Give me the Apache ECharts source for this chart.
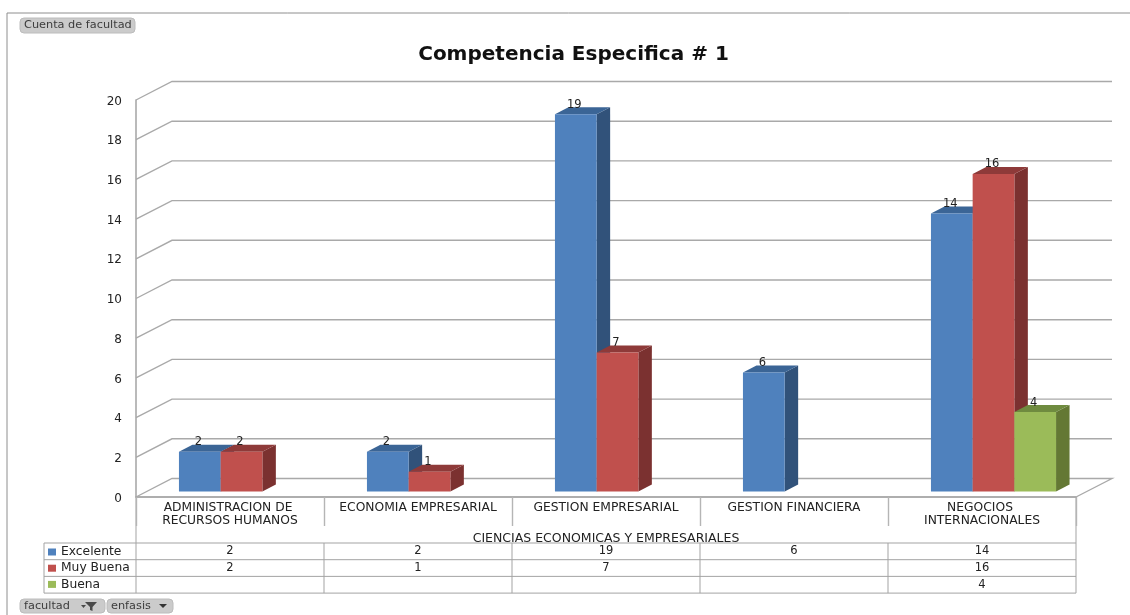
<!DOCTYPE html>
<html>
<head>
<meta charset="utf-8">
<title>Competencia Especifica # 1</title>
<style>html,body{margin:0;padding:0;background:#fff}#c{width:1130px;height:615px}</style>
<script src="https://cdn.jsdelivr.net/npm/echarts@6/dist/echarts.min.js"></script>
</head>
<body>
<div id="c"></div>
<script>
const titulo = 'Competencia Especifica # 1';
const facultad = 'CIENCIAS ECONOMICAS Y EMPRESARIALES';
const categorias = ['ADMINISTRACION DE RECURSOS HUMANOS','ECONOMIA EMPRESARIAL','GESTION EMPRESARIAL','GESTION FINANCIERA','NEGOCIOS INTERNACIONALES'];
const excelente = [2,2,19,6,14];
const muyBuena = [2,1,7,null,16];
const buena = [null,null,null,null,4];
const marcasY = [0,2,4,6,8,10,12,14,16,18,20];
const FONT = '"DejaVu Sans", Verdana, sans-serif';
const GRID = {left:136, top:100, width:940, height:397};
const DX = 36, DY = 18.5;         // wall depth
const BAR_DX = 13.5, BAR_DY = 7;  // bar depth
const INSET_Y = 5.5, INSET_X = 11.5;
const TBL = {left:44, top:543, rowH:16.7, rows:3};
const LINE = '#a9a9a9';

function shade(shape, fill){ return {type:'polygon', shape:{points:shape}, style:{fill:fill, stroke:null}}; }

function barRenderer(idx, front, top, side){
  return function(params, api){
    const i = api.value(0), v = api.value(1);
    const p = api.coord([i, v]), b = api.coord([i, 0]);
    const w = api.size([1,0])[0] * 0.2218;
    const x0 = p[0] + INSET_X - 1.5*w + idx*w, x1 = x0 + w;
    const yT = p[1] - INSET_Y, yB = b[1] - INSET_Y;
    return {type:'group', children:[
      shade([[x1,yT],[x1+BAR_DX,yT-BAR_DY],[x1+BAR_DX,yB-BAR_DY],[x1,yB]], side),
      shade([[x0,yT],[x0+BAR_DX,yT-BAR_DY],[x1+BAR_DX,yT-BAR_DY],[x1,yT]], top),
      {type:'rect', shape:{x:x0,y:yT,width:w,height:yB-yT}, style:{fill:front}},
      {type:'text', style:{x:(x0+x1)/2-1.5, y:yT-9.5, text:String(v), fill:'#222', font:'11.5px '+FONT, align:'center', verticalAlign:'middle'}}
    ]};
  };
}
function barSeries(name, values, idx, front, top, side){
  return {
    name:name, type:'custom', coordinateSystem:'cartesian2d',
    itemStyle:{color:front}, clip:false, z:3+idx,
    renderItem:barRenderer(idx, front, top, side),
    encode:{x:0,y:1},
    data:values.map((v,i)=>[i,v]).filter(d=>d[1]!==null)
  };
}

const wallSeries = {
  name:'pared', type:'custom', coordinateSystem:'cartesian2d', silent:true, z:1, clip:false,
  encode:{y:0},
  data:marcasY.map(v=>[v]),
  renderItem:function(params, api){
    const v = api.value(0);
    const y = api.coord([0, v])[1];
    const cs = params.coordSys;
    const pts = [[cs.x, y],[cs.x+DX, y-DY],[cs.x+cs.width+DX, y-DY]];
    if (v === 0) pts.push([cs.x+cs.width, y]);
    return {type:'polyline', shape:{points:pts}, style:{stroke:LINE, lineWidth:1.4, fill:null}};
  }
};

const filas = [excelente, muyBuena, buena];
const celdas = [];
filas.forEach((f,r)=>f.forEach((v,c)=>{ if(v!==null) celdas.push([c,r,v]); }));
const tablaSeries = {
  name:'tabla', type:'custom', coordinateSystem:'cartesian2d', silent:true, z:6, clip:false,
  encode:{x:0},
  data:celdas,
  renderItem:function(params, api){
    const x = api.coord([api.value(0), 0])[0];
    const y = TBL.top + (api.value(1)+0.5)*TBL.rowH;
    return {type:'text', style:{x:x, y:y, text:String(api.value(2)), fill:'#222', font:'11.5px '+FONT, align:'center', verticalAlign:'middle'}};
  }
};

function hline(x1,x2,y,c){ return {type:'line', shape:{x1:x1,y1:y,x2:x2,y2:y}, style:{stroke:c||'#a3a3a3', lineWidth:1}, silent:true}; }
function vline(x,y1,y2,c){ return {type:'line', shape:{x1:x,y1:y1,x2:x,y2:y2}, style:{stroke:c||'#a3a3a3', lineWidth:1}, silent:true}; }
function boton(x,y,w,h,t,tx){
  return [
    {type:'rect', shape:{x:x,y:y,width:w,height:h,r:4}, style:{fill:'#cbcbcb', stroke:'#bcbcbc', lineWidth:1}, silent:true},
    {type:'text', style:{x:tx,y:y+h/2,text:t,fill:'#3c3c3c',font:'11.3px '+FONT,verticalAlign:'middle'}, silent:true}
  ];
}
const right = GRID.left+GRID.width, bottom = TBL.top+TBL.rows*TBL.rowH;
const colW = GRID.width/categorias.length;
const graficos = [
  hline(7,1130,13,'#8e8e8e'), vline(7,13,615,'#8e8e8e'),
  ...boton(20,18,115,15,'Cuenta de facultad',24),
  ...boton(20,599,85,14,'facultad',24),
  ...boton(107,599,66,14,'enfasis',111),
  {type:'polygon', shape:{points:[[85,602],[97,602],[92.5,607],[92.5,611],[90,610],[90,607]]}, style:{fill:'#4a4a4a'}, silent:true},
  {type:'polygon', shape:{points:[[81,605],[86,605],[83.5,608]]}, style:{fill:'#4a4a4a'}, silent:true},
  {type:'polygon', shape:{points:[[159,604],[167,604],[163,608]]}, style:{fill:'#333'}, silent:true},
  vline(GRID.left,497,bottom), vline(right,497,bottom),
  vline(TBL.left,TBL.top,bottom), hline(GRID.left,right,497),
];
for (let r=0;r<=TBL.rows;r++) graficos.push(hline(TBL.left,right,TBL.top+r*TBL.rowH));
for (let c=1;c<categorias.length;c++) graficos.push(vline(GRID.left+c*colW,TBL.top,bottom));

const chart = echarts.init(document.getElementById('c'), null, {renderer:'canvas'});
chart.setOption({
  animation:false,
  backgroundColor:'#ffffff',
  textStyle:{fontFamily:FONT},
  title:{text:titulo, left:568.5, top:40, textAlign:'center',
    textStyle:{fontFamily:FONT, fontSize:20, fontWeight:'bold', color:'#111'}},
  legend:{orient:'vertical', left:48, top:TBL.top+3, itemWidth:8, itemHeight:7, itemGap:4.2, icon:'rect',
    selectedMode:false, padding:0,
    data:['Excelente','Muy Buena','Buena'],
    textStyle:{fontFamily:FONT, fontSize:12.3, color:'#222'}},
  grid:{left:GRID.left, top:GRID.top, width:GRID.width, height:GRID.height, containLabel:false},
  xAxis:{type:'category', data:categorias, boundaryGap:true, name:facultad, nameLocation:'middle', nameGap:33,
    nameTextStyle:{fontFamily:FONT, fontSize:12.5, color:'#222'},
    axisLine:{show:true, lineStyle:{color:'#a3a3a3', width:1.5}},
    axisTick:{show:true, length:29, alignWithLabel:false, lineStyle:{color:'#b5b5b5', width:1.4}},
    axisLabel:{interval:0, margin:4, width:175, overflow:'break', lineHeight:13, align:'center', verticalAlign:'top',
      fontFamily:FONT, fontSize:12.3, color:'#222'},
    splitLine:{show:false}},
  yAxis:{type:'value', min:0, max:20, interval:2,
    axisLine:{show:true, lineStyle:{color:'#a3a3a3', width:1.5}},
    axisTick:{show:false},
    axisLabel:{margin:14, verticalAlign:'top', lineHeight:3, fontFamily:FONT, fontSize:12, color:'#222'},
    splitLine:{show:false}},
  series:[
    wallSeries,
    barSeries('Excelente', excelente, 0, '#4F81BD', '#3B6596', '#31527A'),
    barSeries('Muy Buena', muyBuena, 1, '#C0504D', '#8E3A39', '#7B3130'),
    barSeries('Buena', buena, 2, '#9BBB59', '#6F8B3F', '#647834'),
    tablaSeries
  ],
  graphic:{elements:graficos}
});
</script>
</body>
</html>
